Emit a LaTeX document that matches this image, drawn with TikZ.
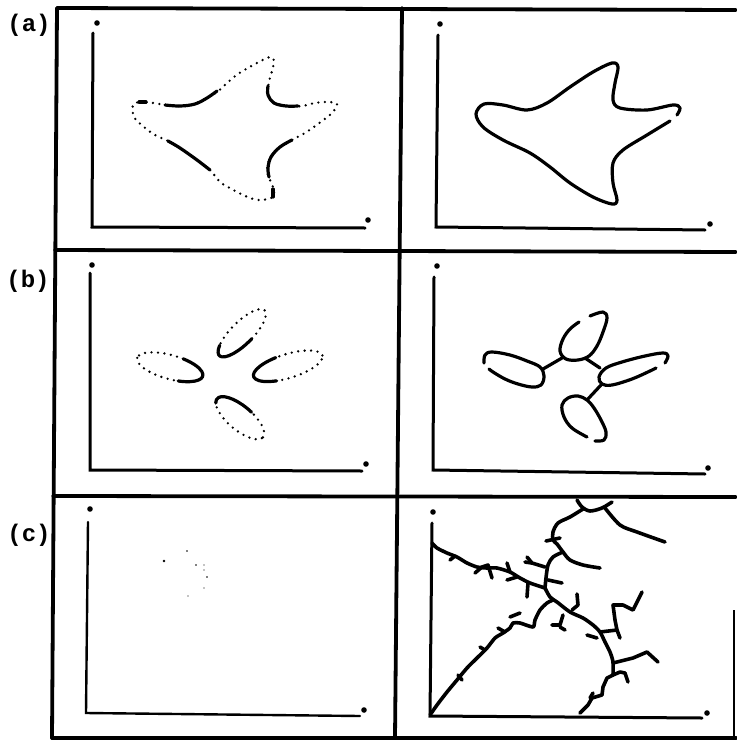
\documentclass[tikz,border=0pt]{standalone}
\usepackage{fontspec}
\newfontfamily\labfont{Liberation Mono}
\begin{document}
\begin{tikzpicture}[x=1pt,y=-1pt,
  frame/.style={line width=3.8pt, line cap=round},
  axis/.style={line width=3pt, line cap=round},
  enddot/.style={fill=black, draw=none},
  curve/.style={line width=3.2pt, line cap=round, line join=round},
  dots/.style={line width=2.6pt, line cap=round, dash pattern=on 0pt off 6.5pt},
  tree/.style={line width=3.6pt, line cap=round, line join=round},
  lab/.style={font=\labfont\bfseries\fontsize{24}{24}\selectfont, inner sep=0pt}]
\useasboundingbox (0,0) rectangle (736,744);

% ---------- frame ----------
\draw[frame] (57,8) -- (736,10);
\draw[frame] (57,8) -- (52,738);
\draw[frame] (52,738) -- (736,738);
\draw[frame] (55,250) -- (736,252);
\draw[frame] (53,496) -- (736,497);
\draw[frame] (402,8) -- (395,738);
\draw[line width=1.5pt] (734,610) -- (734,738);

% ---------- labels ----------
\node[lab] (la) at (29,25) {(a)};
\node[lab] (lb) at (28,281) {(b)};
\node[lab] (lc) at (29,535) {(c)};

% ---------- axes ----------
\draw[axis] (93,33) -- (92,227) -- (365,228);
\fill[enddot] (97,23) circle (2.8pt) (368,220) circle (2.8pt);
\draw[axis] (438,35) -- (436,227) -- (705,230);
\fill[enddot] (440,24) circle (2.8pt) (710,224) circle (2.8pt);
\draw[axis] (90,273) -- (90,470) -- (362,471);
\fill[enddot] (92,265) circle (2.8pt) (366,464) circle (2.8pt);
\draw[axis] (434,277) -- (433,470) -- (705,474);
\fill[enddot] (437,266) circle (2.8pt) (708,468) circle (2.8pt);
\draw[line width=2.4pt, line cap=round] (88,522) -- (86,713) -- (360,716);
\fill[enddot] (90,509) circle (2.8pt) (364,710) circle (2.8pt);
\draw[axis] (432,523) -- (430,716) -- (702,718);
\fill[enddot] (433,512) circle (2.8pt) (707,713) circle (2.8pt);

% ---------- (a) left: dotted star with solid pieces ----------
\draw[dots] plot[smooth cycle, tension=0.55] coordinates {
 (133,105) (140,102) (153,103) (167,105) (187,106) (203,100) (217,92)
 (227,83) (238,74) (255,64) (270,57) (274,61) (272,71) (269,82) (268,93)
 (273,102) (287,106) (302,106) (315,103) (328,102) (337,104) (332,113)
 (318,124) (305,133) (292,140) (277,150) (268,163) (268,175) (273,187)
 (273,197) (258,200) (243,195) (228,187) (220,182) (210,170) (197,160)
 (180,148) (168,141) (155,135) (144,127) (134,117)};
\draw[curve] plot[smooth, tension=0.6] coordinates {(165,105) (180,106) (195,104) (207,98) (217,91)};
\draw[curve] plot[smooth, tension=0.6] coordinates {(268,86) (268,95) (274,103) (286,106) (298,106)};
\draw[curve] plot[smooth, tension=0.6] coordinates {(168,141) (180,148) (197,160) (210,170)};
\draw[curve] plot[smooth, tension=0.6] coordinates {(292,140) (280,147) (271,157) (268,168) (269,177)};
\draw[curve] (139,102) -- (146,102);
\draw[curve] (273,189) -- (273,197);

% ---------- (a) right: solid star ----------
\draw[curve] plot[smooth, tension=0.55] coordinates {
 (670,121) (647,135) (623,150) (613,163) (613,183) (617,200) (612,204)
 (593,197) (570,183) (550,167) (530,153) (503,140) (483,127) (476,114)
 (484,104) (503,105) (527,110) (547,103) (570,87) (593,72) (612,63)
 (618,67) (615,83) (613,100) (620,108) (647,110) (673,105) (680,108) (677,115)};

% ---------- (b) left: four dotted lobes ----------
\begin{scope}[shift={(242,333)}, rotate=45]
 \draw[dots] (0,0) ellipse [x radius=32pt, y radius=11pt];
 \draw[curve] (140:32pt and 11pt) arc[start angle=140, end angle=275, x radius=32pt, y radius=11pt];
\end{scope}
\begin{scope}[shift={(170,367)}, rotate=164.5]
 \draw[dots] (0,0) ellipse [x radius=34pt, y radius=12pt];
 \draw[curve] (110:34pt and 12pt) arc[start angle=110, end angle=252, x radius=34pt, y radius=12pt];
\end{scope}
\begin{scope}[shift={(288,366)}, rotate=17]
 \draw[dots] (0,0) ellipse [x radius=36pt, y radius=12pt];
 \draw[curve] (105:36pt and 12pt) arc[start angle=105, end angle=245, x radius=36pt, y radius=12pt];
\end{scope}
\begin{scope}[shift={(240,418)}, rotate=-40]
 \draw[dots] (0,0) ellipse [x radius=30pt, y radius=12pt];
 \draw[curve] (80:30pt and 12pt) arc[start angle=80, end angle=200, x radius=30pt, y radius=12pt];
\end{scope}

% ---------- (b) right: joined lobes ----------
\draw[curve] plot[smooth, tension=0.6] coordinates {
 (590,316) (603,312) (607,318) (603,332) (597,346) (589,356) (578,360)
 (566,359) (560,351) (563,339) (570,329) (579,322)};
\draw[curve] plot[smooth, tension=0.6] coordinates {
 (484,363) (485,355) (492,352) (510,355) (527,361) (540,367) (544,376)
 (541,385) (532,387) (518,384) (505,379) (493,372) (489,369)};
\draw[curve] plot[smooth, tension=0.6] coordinates {
 (665,363) (668,356) (663,353) (645,356) (622,362) (606,368) (599,377)
 (602,384) (612,385) (632,379) (650,371) (656,368)};
\draw[curve] plot[smooth, tension=0.6] coordinates {
 (595,441) (604,440) (606,432) (601,420) (594,408) (587,400) (578,396)
 (568,398) (562,405) (564,417) (572,428) (587,437)};
\draw[curve] (543,369) -- (562,358);
\draw[curve] (585,358) -- (600,368);
\draw[curve] (601,385) -- (587,400);

% ---------- (c) left: sparse dots ----------
\fill (187,551) circle (0.9pt) (164,561) circle (1.3pt) (196,565) circle (0.8pt)
      (204,565) circle (0.6pt) (204,570) circle (0.7pt) (207,577) circle (0.9pt)
      (204,588) circle (0.6pt) (188,596) circle (0.6pt);

% ---------- (c) right: branching tree ----------
\draw[tree] plot[smooth, tension=0.5] coordinates {(577,500) (582,507) (590,511) (602,508) (612,502)};
\draw[tree] plot[smooth, tension=0.5] coordinates {(583,509) (570,517) (558,523) (553,532) (553,540) (557,544) (563,552) (570,560) (583,565) (600,568)};
\draw[tree] (546,541) -- (560,538);
\draw[tree] plot[smooth, tension=0.5] coordinates {(605,508) (620,525) (637,532) (665,542)};
\draw[tree] plot[smooth, tension=0.5] coordinates {(563,552) (553,557) (548,565) (546,578) (545,588)};
\draw[tree] (527,557) -- (532,563) -- (545,567);
\draw[tree] (525,562) -- (532,563);
\draw[tree] (548,580) -- (562,583);
\draw[tree] plot[smooth, tension=0.4] coordinates {(432,543) (437,548) (447,553) (457,557) (467,563) (477,567) (487,568) (497,568) (510,572) (520,578) (530,583) (545,588)};
\draw[tree] (450,560) -- (455,556);
\draw[tree] (475,573) -- (482,567) -- (488,565) -- (492,578);
\draw[tree] (507,563) -- (510,572);
\draw[tree] (507,580) -- (517,577);
\draw[tree] (528,583) -- (527,597);
\draw[tree] plot[smooth, tension=0.45] coordinates {(545,588) (550,597) (557,602) (570,612) (583,618) (593,625) (600,632) (605,642) (610,652) (613,662) (613,675)};
\draw[tree] (577,594) -- (578,605) -- (572,610);
\draw[tree] (563,615) -- (560,625) -- (552,625);
\draw[tree] (560,627) -- (565,630);
\draw[tree] (587,635) -- (597,638);
\draw[tree] plot[smooth, tension=0.4] coordinates {(430,715) (437,705) (447,692) (457,680) (467,668) (477,658) (487,648) (495,638) (503,633) (510,628) (513,623) (520,623) (533,627) (535,620) (540,610) (547,603) (553,600)};
\draw[tree] (458,675) -- (462,680);
\draw[tree] (480,647) -- (485,650);
\draw[tree] (498,628) -- (505,632);
\draw[tree] (510,617) -- (520,613);
\draw[tree] (600,632) -- (617,630) -- (620,638);
\draw[tree] (617,630) -- (615,620) -- (613,605) -- (623,605) -- (633,610) -- (642,592);
\draw[tree] (613,663) -- (633,658) -- (647,652) -- (658,662);
\draw[tree] (613,675) -- (607,678) -- (603,687) -- (602,695) -- (592,698) -- (588,705) -- (580,713);
\draw[tree] (613,675) -- (620,672) -- (625,673) -- (628,682);
\draw[tree] (590,698) -- (593,693);
\end{tikzpicture}
\end{document}
